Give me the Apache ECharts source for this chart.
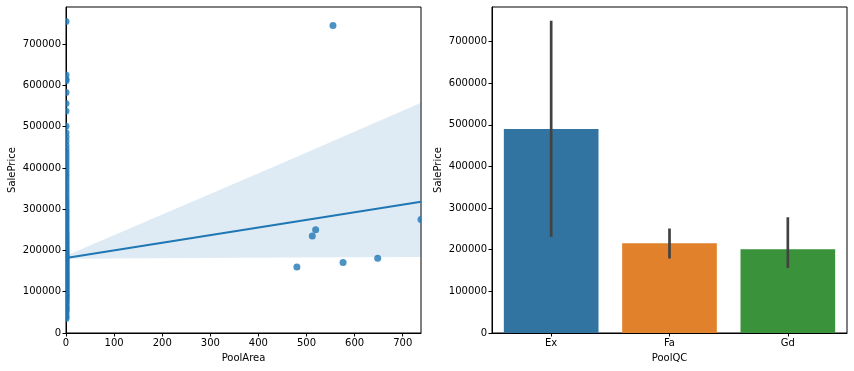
<!DOCTYPE html>
<html><head><meta charset="utf-8">
<script src="https://cdn.jsdelivr.net/npm/echarts@6/dist/echarts.min.js"></script>
<style>html,body{margin:0;padding:0;background:#fff}#c{width:854px;height:371px}</style>
</head><body><div id="c"></div>
<script>
// ---- data ----
// Houses with PoolArea = 0 (dense column)
const zeroPoolPrices = [34900, 39300, 45000, 52000, 55000, 58500, 61000, 64500, 68400, 72500, 76000, 79000, 82000, 85000, 87500, 89500, 91500, 94000, 97000, 99500,
  102000, 105000, 108000, 110500, 113000, 116000, 118500, 121000, 124000, 127000, 129500, 132000, 135000, 138000, 140500, 143000, 146000, 149000, 152000, 155000,
  158000, 161000, 164000, 167000, 170000, 173000, 176000, 179000, 182000, 185000, 188000, 191000, 194000, 197000, 200000, 204000, 208000, 212000, 216000, 220000,
  224000, 228000, 232000, 236000, 240000, 245000, 250000, 255000, 260000, 265000, 270000, 275000, 280000, 285000, 290000, 295000, 300000, 306000, 312000, 318000,
  325000, 332000, 340000, 348000, 355000, 362000, 370000, 378000, 385000, 392000, 400000, 408000, 415000, 423000, 430000, 438000, 446000, 455000, 465000, 475000,
  485000, 501000, 538000, 556000, 583000, 611000, 615000, 625000, 755000];
const poolAreas = [480, 512, 519, 555, 576, 648, 738];
const poolPrices = [160000, 235000, 250000, 745000, 171000, 181000, 275000];
const fitX = [0, 738];
const fitY = [182000, 318000];
const bandX = [0, 444, 738];
const bandLow = [180000, 183000, 184000];
const bandHigh = [187000, 409000, 558000];

const categories = ['Ex', 'Fa', 'Gd'];
const meanPrice = [490000, 215500, 201000];
const ciLow = [231000, 179000, 156000];
const ciHigh = [750000, 251000, 278000];
const barColors = ['#3274a1', '#e1812c', '#3a923a'];

const yTicks = [0, 100000, 200000, 300000, 400000, 500000, 600000, 700000];
const xTicks = [0, 100, 200, 300, 400, 500, 600, 700];

// ---- chart ----
const chart = echarts.init(document.getElementById('c'));
const font = 'DejaVu Sans';
const txt = '#000';
const plain = v => String(v);
const axisBase = {
  axisLine: {show: true, onZero: false, lineStyle: {color: '#000', width: 1}},
  splitLine: {show: false},
  nameTextStyle: {color: txt, fontFamily: font, fontSize: 10}
};
function ax(extra) { return Object.assign({}, JSON.parse(JSON.stringify(axisBase)), extra); }

const scatterData = zeroPoolPrices.map(v => [0, v]).concat(poolAreas.map((a, i) => [a, poolPrices[i]]));

chart.setOption({
  animation: false,
  textStyle: {fontFamily: font},
  grid: [
    {left: 66, top: 7, width: 355, height: 326, show: true, borderColor: '#000', borderWidth: 1, backgroundColor: 'transparent'},
    {left: 492, top: 7, width: 355, height: 326, show: true, borderColor: '#000', borderWidth: 1, backgroundColor: 'transparent'}
  ],
  xAxis: [
    ax({type: 'value', gridIndex: 0, min: 0, max: 738, name: 'PoolArea', nameLocation: 'middle', nameGap: 20,
      axisTick: {show: true, length: 3.5, lineStyle: {color: '#000'}, customValues: xTicks},
      axisLabel: {color: txt, fontFamily: font, fontSize: 10, margin: 5, customValues: xTicks, formatter: plain}}),
    ax({type: 'category', gridIndex: 1, data: categories, name: 'PoolQC', nameLocation: 'middle', nameGap: 20,
      axisTick: {show: true, length: 3.5, alignWithLabel: true, lineStyle: {color: '#000'}},
      axisLabel: {color: txt, fontFamily: font, fontSize: 10, margin: 5}})
  ],
  yAxis: [
    ax({type: 'value', gridIndex: 0, min: 0, max: 790000, name: 'SalePrice', nameLocation: 'middle', nameGap: 49, nameRotate: 90,
      axisTick: {show: true, length: 3.5, lineStyle: {color: '#000'}, customValues: yTicks},
      axisLabel: {color: txt, fontFamily: font, fontSize: 10, margin: 5, customValues: yTicks, formatter: plain}}),
    ax({type: 'value', gridIndex: 1, min: 0, max: 783000, name: 'SalePrice', nameLocation: 'middle', nameGap: 49, nameRotate: 90,
      axisTick: {show: true, length: 3.5, lineStyle: {color: '#000'}, customValues: yTicks},
      axisLabel: {color: txt, fontFamily: font, fontSize: 10, margin: 5, customValues: yTicks, formatter: plain}})
  ],
  series: [
    {
      type: 'custom', xAxisIndex: 0, yAxisIndex: 0, clip: true, z: 1,
      data: [0],
      renderItem: function (params, api) {
        const pts = [];
        for (let i = 0; i < bandX.length; i++) pts.push(api.coord([bandX[i], bandHigh[i]]));
        for (let i = bandX.length - 1; i >= 0; i--) pts.push(api.coord([bandX[i], bandLow[i]]));
        return {type: 'polygon', shape: {points: pts}, style: {fill: 'rgba(31,119,180,0.15)', stroke: 'none'}};
      }
    },
    {
      type: 'custom', xAxisIndex: 0, yAxisIndex: 0, clip: true, z: 2,
      data: scatterData,
      renderItem: function (params, api) {
        const p = api.coord([api.value(0), api.value(1)]);
        return {type: 'circle', shape: {cx: p[0], cy: p[1], r: 3.5},
          style: {fill: 'rgba(31,119,180,0.8)', stroke: 'none'}};
      }
    },
    {
      type: 'line', xAxisIndex: 0, yAxisIndex: 0, z: 3, showSymbol: false, symbol: 'none',
      data: fitX.map((x, i) => [x, fitY[i]]),
      lineStyle: {color: '#1f77b4', width: 2}
    },
    {
      type: 'bar', xAxisIndex: 1, yAxisIndex: 1, barWidth: '80%', z: 2,
      data: meanPrice.map((v, i) => ({value: v, itemStyle: {color: barColors[i]}}))
    },
    {
      type: 'custom', xAxisIndex: 1, yAxisIndex: 1, z: 5,
      data: categories.map((c, i) => [i, ciLow[i], ciHigh[i]]),
      renderItem: function (params, api) {
        const p1 = api.coord([api.value(0), api.value(1)]);
        const p2 = api.coord([api.value(0), api.value(2)]);
        return {type: 'line', shape: {x1: p1[0], y1: p1[1], x2: p2[0], y2: p2[1]},
          style: {stroke: '#424242', lineWidth: 2.7}};
      }
    }
  ]
});
</script></body></html>
